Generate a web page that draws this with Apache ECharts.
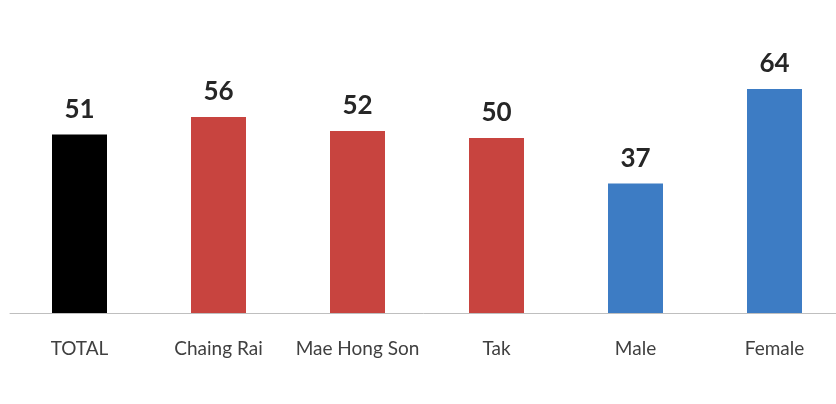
<!DOCTYPE html>
<html>
<head>
<meta charset="utf-8">
<script src="https://cdn.jsdelivr.net/npm/echarts@6/dist/echarts.min.js"></script>
<style>
  html, body { margin: 0; padding: 0; background: #ffffff; }
  #chart { width: 836px; height: 404px; }
</style>
</head>
<body>
<div id="chart"></div>
<script>
// Categories and percentages shown on the bars
const categories = ['TOTAL', 'Chaing Rai', 'Mae Hong Son', 'Tak', 'Male', 'Female'];
const values = [51, 56, 52, 50, 37, 64];
// Bar fill per category: overall, provinces, gender
const barColors = ['#000000', '#c8443f', '#c8443f', '#c8443f', '#3d7cc4', '#3d7cc4'];

const chart = echarts.init(document.getElementById('chart'), null, { renderer: 'canvas' });

chart.setOption({
  backgroundColor: '#ffffff',
  animation: false,
  // plot area runs a little past the right edge of the canvas
  grid: {
    left: 10, top: 68, width: 834, height: 245,
    containLabel: false,
    outerBoundsMode: 'none'
  },
  xAxis: {
    type: 'category',
    data: categories,
    axisLine: { show: true, lineStyle: { color: '#bfbfbf', width: 1 } },
    axisTick: { show: false },
    axisLabel: {
      color: '#404040',
      fontFamily: 'Lato',
      fontSize: 19,
      margin: 26,
      interval: 0
    }
  },
  yAxis: {
    type: 'value',
    min: 0,
    max: 70,
    show: false,
    splitLine: { show: false }
  },
  series: [{
    type: 'bar',
    barWidth: 55,
    data: values.map((v, i) => ({ value: v, itemStyle: { color: barColors[i] } })),
    label: {
      show: true,
      position: 'top',
      distance: 12,
      color: '#262626',
      fontFamily: 'Lato',
      fontWeight: 'bold',
      fontSize: 26
    }
  }]
});
</script>
</body>
</html>
